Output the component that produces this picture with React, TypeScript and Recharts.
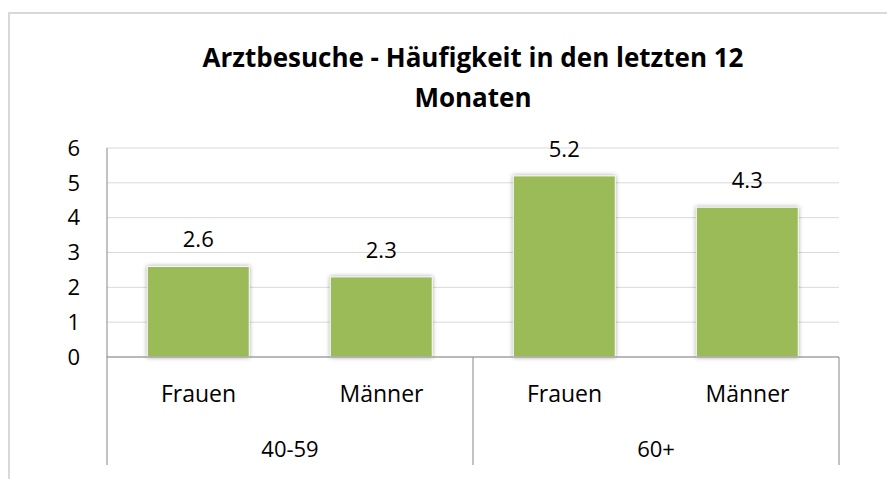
import React from 'react'
import { BarChart, Bar, XAxis, YAxis, CartesianGrid, LabelList } from 'recharts'

const sexes = ['Frauen', 'Männer', 'Frauen', 'Männer']
const groups = ['40-59', '40-59', '60+', '60+']
const visits = [2.6, 2.3, 5.2, 4.3]
const yTicks = [0, 1, 2, 3, 4, 5, 6]

const data = sexes.map((s, i) => ({ sex: s, group: groups[i], value: visits[i] }))

const FONT = '"Open Sans", sans-serif'
const AXIS = '#868686'

// two-level category axis: sex on top, age group below, with separators
const CategoryTick = (props: any) => {
  const { x, y, payload, index } = props
  const half = payload && payload.offset ? payload.offset : 91.5
  const g = groups[index]
  const isFirst = index === 0 || groups[index - 1] !== g
  let count = 0
  for (let j = index; j < groups.length && groups[j] === g; j++) count++
  return (
    <g>
      <text x={x} y={y + 36} textAnchor="middle" dominantBaseline="central"
        fontFamily={FONT} fontSize={23} fill="#000">
        {payload.value}
      </text>
      {isFirst && (
        <>
          <line x1={x - half} x2={x - half} y1={y} y2={y + 108} stroke={AXIS} strokeWidth={1} />
          <text x={x + (count - 1) * half} y={y + 91} textAnchor="middle" dominantBaseline="central"
            fontFamily={FONT} fontSize={22} fill="#000">
            {g}
          </text>
        </>
      )}
      {index === groups.length - 1 && (
        <line x1={x + half} x2={x + half} y1={y} y2={y + 108} stroke={AXIS} strokeWidth={1} />
      )}
    </g>
  )
}

const ShadowBar = (props: any) => {
  const { x, y, width, height } = props
  return (
    <rect x={x} y={y} width={width} height={height} fill="#9BBB59" stroke="#ffffff" strokeWidth={1}
      style={{ filter: 'drop-shadow(0px 0px 2px rgba(0,0,0,0.35))' }} />
  )
}

export default function App() {
  return (
    <div style={{ position: 'absolute', left: 0, top: 0, width: 887, height: 479, background: '#fff', overflow: 'hidden' }}>
      <div style={{ position: 'absolute', left: 8, top: 12, width: 920, height: 520, border: '2px solid #d9d9d9', boxSizing: 'border-box' }} />
      <div style={{
        position: 'absolute', left: 107, top: 37, width: 732, textAlign: 'center',
        fontFamily: FONT, fontWeight: 700, fontSize: 26, lineHeight: '40px', color: '#000'
      }}>
        Arztbesuche - Häufigkeit in den letzten 12<br />Monaten
      </div>
      <div style={{ position: 'absolute', left: 0, top: 0 }}>
        <BarChart width={887} height={479} data={data}
          margin={{ top: 148, right: 48, left: 0, bottom: 0 }} barCategoryGap="22%">
          <CartesianGrid vertical={false} stroke="#d9d9d9" />
          <XAxis dataKey="sex" height={122} interval={0} tickSize={0} tickMargin={0}
            tickLine={false} axisLine={{ stroke: AXIS }} tick={<CategoryTick />} />
          <YAxis width={107} domain={[0, 6]} ticks={yTicks} interval={0} tickSize={0} tickMargin={27}
            tickLine={false} axisLine={{ stroke: AXIS }}
            tick={{ fontFamily: FONT, fontSize: 22, fill: '#000' }} />
          <Bar dataKey="value" isAnimationActive={false} shape={<ShadowBar />}>
            <LabelList dataKey="value" position="top" offset={19}
              style={{ fontFamily: FONT, fontSize: 22, fill: '#000' }} />
          </Bar>
        </BarChart>
      </div>
    </div>
  )
}
